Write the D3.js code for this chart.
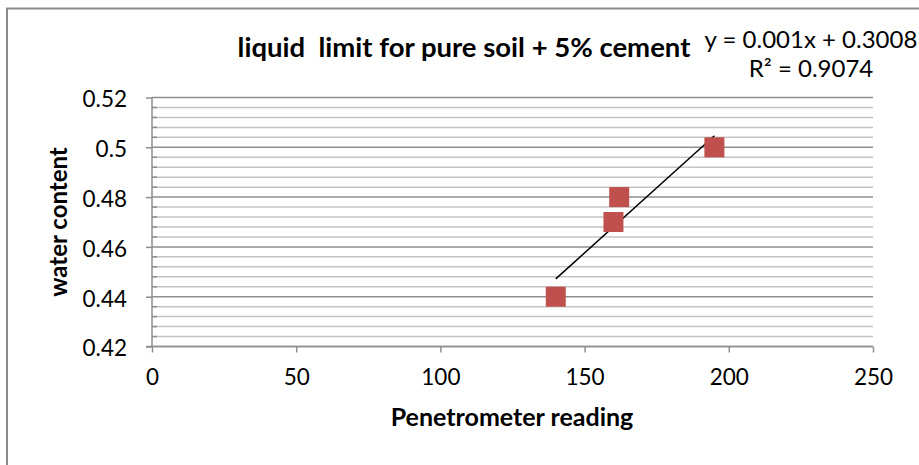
<!DOCTYPE html>
<html>
<head>
<meta charset="utf-8">
<script src="https://cdn.jsdelivr.net/npm/d3@7"></script>
<style>
  body { margin: 0; background: #fff; }
  text { font-family: Lato, "Open Sans", sans-serif; fill: #000; }
</style>
</head>
<body>
<div id="viz"></div>
<script>
//==============================================================================
// Data
var readings = [140, 160, 162, 195];
var water = [0.44, 0.47, 0.48, 0.5];
var xTicks = [0, 50, 100, 150, 200, 250];
var yTicks = [0.42, 0.44, 0.46, 0.48, 0.5, 0.52];
var eqLines = ["y = 0.001x + 0.3008", "R² = 0.9074"];

var width = 919, height = 465;
var pl = 152, pr = 873, pt = 97.5, pb = 346.5;

var svg = d3.select("#viz").append("svg")
  .attr("width", width)
  .attr("height", height);

// outer chart border (only top and left are inside the frame)
svg.append("path")
  .attr("d", "M7,465V8.5H919")
  .attr("fill", "none")
  .attr("stroke", "#8c8c8c")
  .attr("stroke-width", 2);

var x = d3.scaleLinear().domain([0, 250]).range([pl, pr]);
var y = d3.scaleLinear().domain([0.42, 0.52]).range([pb, pt]);

// minor gridlines every 0.004
var minor = d3.range(0, 26).map(function(i) { return 0.42 + i * 0.004; })
  .filter(function(v, i) { return i % 5 != 0; });

svg.append("g").selectAll("line")
  .data(minor)
  .enter().append("line")
  .attr("x1", pl).attr("x2", pr)
  .attr("y1", function(d) { return y(d); })
  .attr("y2", function(d) { return y(d); })
  .attr("stroke", "#c3c3c3")
  .attr("stroke-width", 1.5);

svg.append("g").selectAll("line")
  .data(yTicks)
  .enter().append("line")
  .attr("x1", pl).attr("x2", pr)
  .attr("y1", function(d) { return y(d); })
  .attr("y2", function(d) { return y(d); })
  .attr("stroke", "#8e8e8e")
  .attr("stroke-width", 1.5);

// minor ticks on y axis (inside)
svg.append("g").selectAll("line")
  .data(minor)
  .enter().append("line")
  .attr("x1", pl).attr("x2", pl + 5)
  .attr("y1", function(d) { return y(d); })
  .attr("y2", function(d) { return y(d); })
  .attr("stroke", "#8e8e8e")
  .attr("stroke-width", 1.5);

// y axis
var yAxis = d3.axisLeft(y).tickValues(yTicks).tickSize(6)
  .tickFormat(function(d) { return String(+d.toFixed(2)); });
var gy = svg.append("g")
  .attr("transform", "translate(" + pl + ",0)")
  .call(yAxis);
gy.selectAll("text").style("font-size", "22.5px").attr("dy", "0.42em").attr("x", -25);
gy.selectAll("line,path").attr("stroke", "#8e8e8e").attr("stroke-width", 1.5);
gy.select(".domain").attr("d", "M0," + pt + "V" + pb);

// x axis
var xAxis = d3.axisBottom(x).tickValues(xTicks).tickSize(6).tickPadding(17);
var gx = svg.append("g")
  .attr("transform", "translate(0," + pb + ")")
  .call(xAxis);
gx.selectAll("text").style("font-size", "22.5px");
gx.selectAll("line,path").attr("stroke", "#8e8e8e").attr("stroke-width", 1.5);
gx.select(".domain").attr("d", "M" + (pl - 6) + ",0H" + pr);

// linear trendline over the data range
var mx = d3.mean(readings), my = d3.mean(water);
var sxy = d3.sum(readings, function(v, i) { return (v - mx) * (water[i] - my); });
var sxx = d3.sum(readings, function(v) { return (v - mx) * (v - mx); });
var slope = sxy / sxx, icpt = my - slope * mx;
var xr = d3.extent(readings);
svg.append("line")
  .attr("x1", x(xr[0])).attr("y1", y(icpt + slope * xr[0]))
  .attr("x2", x(xr[1])).attr("y2", y(icpt + slope * xr[1]))
  .attr("stroke", "#000")
  .attr("stroke-width", 1.5);

// square markers
svg.append("g").selectAll("rect")
  .data(readings)
  .enter().append("rect")
  .attr("x", function(d) { return x(d) - 10; })
  .attr("y", function(d, i) { return y(water[i]) - 10; })
  .attr("width", 20).attr("height", 20)
  .attr("fill", "#c0504d");

// titles
svg.append("text")
  .attr("x", 464).attr("y", 57)
  .attr("text-anchor", "middle")
  .style("font-size", "27.5px").style("font-weight", "bold")
  .text("liquid\u00a0 limit for pure soil + 5% cement");

svg.append("g").selectAll("text")
  .data(eqLines)
  .enter().append("text")
  .attr("x", 811)
  .attr("y", function(d, i) { return 48 + i * 29; })
  .attr("text-anchor", "middle")
  .style("font-size", "24px")
  .text(function(d) { return d; });

svg.append("text")
  .attr("x", 512).attr("y", 426)
  .attr("text-anchor", "middle")
  .style("font-size", "25px").style("font-weight", "bold")
  .text("Penetrometer reading");

svg.append("text")
  .attr("transform", "translate(67,222) rotate(-90)")
  .attr("text-anchor", "middle")
  .style("font-size", "24px").style("font-weight", "bold")
  .text("water content");
</script>
</body>
</html>
